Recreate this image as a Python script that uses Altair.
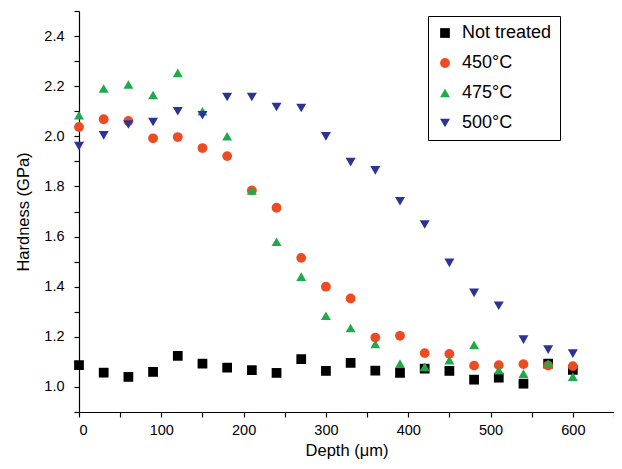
import altair as alt
import pandas as pd

depth = [0, 30, 60, 90, 120, 150, 180, 210, 240, 270, 300, 330, 360, 390, 420, 450, 480, 510, 540, 570, 600]
not_treated = [1.087, 1.057, 1.040, 1.060, 1.124, 1.093, 1.077, 1.067, 1.056, 1.111, 1.064, 1.096, 1.065, 1.056, 1.073, 1.064, 1.029, 1.037, 1.013, 1.093, 1.068]
t450 = [2.037, 2.068, 2.061, 1.992, 1.997, 1.953, 1.921, 1.784, 1.715, 1.515, 1.400, 1.353, 1.197, 1.204, 1.135, 1.132, 1.085, 1.087, 1.091, 1.085, 1.083]
t475 = [2.084, 2.191, 2.207, 2.165, 2.253, 2.100, 2.000, 1.784, 1.579, 1.440, 1.284, 1.235, 1.171, 1.093, 1.080, 1.107, 1.168, 1.067, 1.053, 1.093, 1.041]
t500 = [1.961, 2.004, 2.047, 2.057, 2.100, 2.084, 2.157, 2.157, 2.117, 2.113, 2.000, 1.897, 1.864, 1.741, 1.648, 1.495, 1.375, 1.324, 1.189, 1.149, 1.133]

series = ["Not treated", "450°C", "475°C", "500°C"]
colors = ["#000000", "#EF4B23", "#1FAA4A", "#2B3492"]
shapes = ["square", "circle", "triangle-up", "triangle-down"]
sizes = [95, 100, 150, 150]

rows = []
for name, vals in zip(series, [not_treated, t450, t475, t500]):
    for d, v in zip(depth, vals):
        rows.append({"Depth": d, "Hardness": v, "Series": name})
df = pd.DataFrame(rows)

x_ticks = list(range(0, 651, 50))
y_ticks = [round(0.9 + 0.1 * i, 1) for i in range(17)]

font = "Liberation Sans"

chart = alt.Chart(df).mark_point(filled=True, opacity=1).encode(
    x=alt.X("Depth:Q", scale=alt.Scale(domain=[0, 650], nice=False, zero=False),
            axis=alt.Axis(title="Depth (μm)", values=x_ticks,
                          labelExpr="datum.value % 100 == 0 ? datum.label : ''",
                          grid=False, tickSize=5, labelPadding=6, titlePadding=6)),
    y=alt.Y("Hardness:Q", scale=alt.Scale(domain=[0.9, 2.5], nice=False, zero=False),
            axis=alt.Axis(title="Hardness (GPa)", values=y_ticks, format=".1f",
                          labelExpr="round(datum.value * 10) % 2 == 0 && datum.value > 0.95 && datum.value < 2.45 ? datum.label : ''",
                          grid=False, tickSize=5, labelPadding=10, titlePadding=12)),
    color=alt.Color("Series:N", scale=alt.Scale(domain=series, range=colors),
                    legend=alt.Legend(title=None, orient="none", legendX=349, legendY=5,
                                      strokeColor="black", fillColor="white", padding=8,
                                      labelFontSize=18, labelFont=font, labelColor="black",
                                      symbolSize=100, rowPadding=12, labelOffset=8,
                                      symbolOpacity=1)),
    shape=alt.Shape("Series:N", scale=alt.Scale(domain=series, range=shapes), legend=None),
    size=alt.Size("Series:N", scale=alt.Scale(domain=series, range=sizes), legend=None),
).properties(
    width=535, height=401,
    autosize=alt.AutoSizeParams(type="none"),
    padding={"left": 71, "top": 3, "right": 0, "bottom": 49},
).configure_view(stroke=None).configure_axis(
    domainColor="black", tickColor="black", labelColor="black", titleColor="black",
    labelFont=font, titleFont=font, labelFontSize=14.5, titleFontSize=16.5,
    titleFontWeight="normal", domainWidth=1.2, tickWidth=1.2, domain=True, ticks=True,
)

chart.save("out.html", embed_options={"renderer": "svg", "actions": False})
